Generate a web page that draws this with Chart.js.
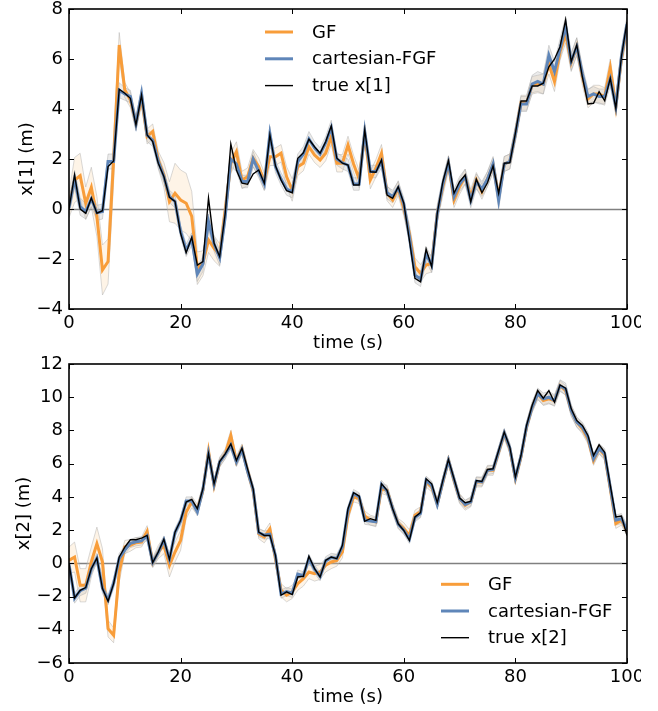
<!DOCTYPE html>
<html>
<head>
<meta charset="utf-8">
<script src="https://cdn.jsdelivr.net/npm/chart.js@4.4.1/dist/chart.umd.min.js"></script>
<style>
  body { margin: 0; background: #fff; }
  canvas { display: block; }
</style>
</head>
<body>
<canvas id="chartX1" width="641" height="355"></canvas>
<canvas id="chartX2" width="641" height="356"></canvas>
<script>
// time steps 0..100 s
const time = Array.from({length: 101}, (_, i) => i);

const xTicks = [0, 20, 40, 60, 80, 100];
const yTicksX1 = [-4, -2, 0, 2, 4, 6, 8];
const yTicksX2 = [-6, -4, -2, 0, 2, 4, 6, 8, 10, 12];

// ---- x[1] ----
const trueX1 = [
  0.0, 1.36, 0.0, -0.17, 0.44, -0.17, -0.07, 1.7, 1.92, 4.79,
  4.63, 4.43, 3.36, 4.56, 2.96, 2.7, 1.83, 1.3, 0.47, 0.3,
  -0.97, -1.75, -1.13, -2.24, -2.1, 0.43, -1.37, -1.9, -0.17, 2.6,
  1.56, 1.03, 0.99, 1.4, 1.56, 1.03, 2.96, 1.73, 1.16, 0.73,
  0.65, 2.03, 2.25, 2.79, 2.49, 2.23, 2.69, 3.32, 2.03, 1.83,
  1.76, 0.96, 0.96, 3.16, 1.49, 1.47, 1.96, 0.56, 0.43, 0.89,
  0.23, -1.24, -2.77, -2.91, -1.61, -2.31, -0.17, 1.09, 1.93, 0.63,
  1.09, 1.36, 0.29, 1.19, 0.65, 1.05, 1.72, 0.63, 1.83, 1.85,
  3.03, 4.32, 4.32, 4.92, 4.92, 5.03, 5.69, 5.99, 6.49, 7.56,
  5.89, 6.56, 5.29, 4.2, 4.23, 4.69, 4.33, 5.23, 4.03, 6.09,
  7.49
];
const fgfX1 = [
  0.05, 1.2, 0.1, -0.1, 0.4, -0.15, -0.1, 1.9, 1.9, 4.75,
  4.6, 4.5, 3.4, 4.62, 2.95, 2.75, 1.9, 1.3, 0.5, 0.3,
  -0.9, -1.65, -1.2, -2.6, -2.2, -0.5, -1.4, -1.95, -0.3, 2.0,
  1.8, 1.1, 1.1, 2.0, 1.5, 1.0, 3.0, 1.7, 1.2, 0.8,
  0.7, 1.9, 2.2, 2.8, 2.45, 2.2, 2.65, 3.25, 2.0, 1.85,
  1.75, 1.0, 1.0, 3.1, 1.5, 1.5, 1.9, 0.65, 0.5, 0.85,
  0.2, -1.1, -2.65, -2.8, -1.8, -2.25, -0.2, 1.0, 1.85, 0.5,
  1.0, 1.3, 0.35, 1.1, 0.8, 1.2, 1.8, 0.35, 1.8, 1.9,
  3.0, 4.2, 4.2, 5.0, 5.1, 5.0, 6.15, 5.5, 6.4, 7.3,
  5.9, 6.5, 5.4, 4.5, 4.6, 4.5, 4.5, 5.2, 4.1, 6.1,
  7.4
];
const gfX1 = [
  0.15, 1.16, 1.33, 0.23, 0.87, -0.3, -2.44, -2.1, 2.0, 6.56,
  4.76, 4.36, 3.43, 4.43, 2.9, 3.1, 1.96, 1.36, 0.29, 0.63,
  0.36, 0.23, -0.3, -2.37, -2.17, -1.24, -1.57, -1.84, -0.04, 1.83,
  2.29, 1.16, 1.29, 2.03, 1.69, 1.09, 2.09, 2.09, 2.23, 1.29,
  0.76, 1.69, 1.83, 2.49, 2.16, 1.96, 2.23, 2.89, 1.83, 1.83,
  2.56, 1.8, 1.2, 3.0, 1.16, 1.63, 2.23, 0.63, 0.36, 0.83,
  0.03, -0.97, -2.31, -2.57, -2.24, -2.17, -0.17, 0.89, 1.83, 0.36,
  0.89, 1.29, 0.49, 1.16, 0.69, 1.2, 1.75, 0.5, 1.8, 1.9,
  3.0, 4.25, 4.25, 4.95, 5.0, 5.0, 5.8, 5.1, 6.3, 7.0,
  5.85, 6.5, 5.3, 4.4, 4.6, 4.6, 4.5, 5.65, 4.1, 6.0,
  7.3
];
// half-width of the shaded bands
const gfSpreadX1 = [
  0.5, 0.9, 0.9, 0.65, 0.8, 0.8, 1.0, 0.9, 0.9, 0.5,
  0.3, 0.3, 0.3, 0.3, 0.3, 0.3, 0.35, 0.5, 0.8, 1.2,
  1.2, 1.2, 1.0, 0.65, 0.5, 0.5, 0.5, 0.45, 0.4, 0.4,
  0.4, 0.35, 0.35, 0.35, 0.35, 0.35, 0.35, 0.35, 0.35, 0.4,
  0.45, 0.35, 0.3, 0.3, 0.3, 0.3, 0.3, 0.3, 0.35, 0.35,
  0.35, 0.35, 0.35, 0.35, 0.35, 0.35, 0.35, 0.3, 0.3, 0.3,
  0.3, 0.35, 0.35, 0.35, 0.35, 0.35, 0.35, 0.35, 0.3, 0.3,
  0.3, 0.3, 0.3, 0.3, 0.3, 0.3, 0.3, 0.3, 0.3, 0.3,
  0.3, 0.3, 0.3, 0.35, 0.35, 0.4, 0.4, 0.4, 0.35, 0.35,
  0.35, 0.35, 0.35, 0.35, 0.35, 0.35, 0.35, 0.35, 0.35, 0.35,
  0.35
];
const fgfSpreadX1 = [
  0.3, 0.35, 0.35, 0.3, 0.3, 0.3, 0.3, 0.3, 0.3, 0.3,
  0.25, 0.25, 0.25, 0.25, 0.25, 0.25, 0.25, 0.25, 0.25, 0.25,
  0.25, 0.25, 0.25, 0.3, 0.3, 0.3, 0.3, 0.3, 0.3, 0.3,
  0.3, 0.25, 0.25, 0.3, 0.25, 0.25, 0.3, 0.25, 0.25, 0.25,
  0.25, 0.3, 0.3, 0.3, 0.25, 0.25, 0.25, 0.3, 0.25, 0.25,
  0.25, 0.25, 0.25, 0.25, 0.25, 0.25, 0.25, 0.25, 0.25, 0.25,
  0.25, 0.3, 0.3, 0.3, 0.3, 0.3, 0.25, 0.25, 0.25, 0.3,
  0.3, 0.3, 0.3, 0.3, 0.3, 0.3, 0.3, 0.35, 0.3, 0.3,
  0.3, 0.3, 0.3, 0.35, 0.4, 0.4, 0.4, 0.4, 0.4, 0.4,
  0.35, 0.35, 0.3, 0.3, 0.3, 0.3, 0.3, 0.3, 0.3, 0.3,
  0.3
];

// ---- x[2] ----
const trueX2 = [
  0.0, -2.08, -1.62, -1.46, -0.32, 0.32, -1.52, -2.28, -1.22, 0.38,
  0.98, 1.42, 1.42, 1.52, 1.68, 0.04, 0.68, 1.44, 0.24, 1.88,
  2.59, 3.69, 3.85, 3.29, 4.49, 6.6, 4.79, 6.13, 6.59, 7.19,
  6.19, 6.93, 5.69, 4.49, 1.88, 1.68, 1.68, 0.48, -1.92, -1.72,
  -1.88, -0.82, -0.78, 0.42, -0.32, -0.82, 0.18, 0.38, 0.28, 1.08,
  3.29, 4.25, 4.05, 2.53, 2.69, 2.59, 4.79, 4.39, 3.29, 2.38,
  1.98, 1.38, 2.79, 3.05, 5.09, 4.79, 3.65, 4.99, 6.25, 5.09,
  3.93, 3.65, 3.73, 4.99, 4.93, 5.65, 5.69, 6.79, 7.9, 6.99,
  5.19, 6.49, 8.3, 9.5, 10.4, 9.94, 10.4, 9.7, 10.74, 10.54,
  9.3, 8.6, 8.3, 7.7, 6.49, 7.13, 6.69, 4.69, 2.79, 2.85,
  1.68
];
const fgfX2 = [
  -0.05, -2.1, -1.65, -1.5, -0.35, 0.3, -1.5, -2.2, -1.2, 0.3,
  0.8, 1.2, 1.3, 1.35, 1.65, 0.05, 0.65, 1.4, 0.25, 1.85,
  2.55, 3.75, 3.75, 3.1, 4.45, 6.6, 4.75, 6.1, 6.55, 7.1,
  6.1, 6.85, 5.55, 4.45, 1.85, 1.7, 1.75, 0.45, -1.85, -1.7,
  -1.8, -0.65, -0.75, 0.3, -0.35, -0.8, 0.15, 0.35, 0.3, 1.0,
  3.2, 4.2, 4.0, 2.6, 2.55, 2.5, 4.75, 4.35, 3.3, 2.35,
  2.0, 1.45, 2.75, 3.0, 5.0, 4.7, 3.55, 4.95, 6.2, 5.05,
  3.9, 3.55, 3.7, 4.95, 4.9, 5.6, 5.65, 6.75, 7.85, 6.95,
  5.15, 6.45, 8.25, 9.4, 10.2, 9.9, 10.0, 9.8, 10.7, 10.5,
  9.2, 8.5, 8.2, 7.6, 6.3, 6.9, 6.6, 4.6, 2.6, 2.7,
  2.0
];
const gfX2 = [
  0.18, 0.38, -1.32, -1.32, 0.08, 1.18, 0.08, -3.93, -4.33, -0.52,
  0.98, 1.08, 1.24, 1.28, 1.92, 0.04, 0.68, 1.08, -0.12, 0.68,
  1.38, 3.09, 3.69, 3.25, 4.39, 6.75, 4.69, 6.09, 6.59, 7.7,
  6.13, 6.89, 5.59, 4.39, 1.78, 1.58, 2.08, 0.28, -1.62, -1.92,
  -1.72, -1.22, -0.92, -0.52, -0.62, -0.52, -0.12, 0.08, 0.18, 0.68,
  2.89, 4.0, 3.9, 2.85, 2.6, 2.5, 4.5, 4.4, 3.3, 2.4,
  2.1, 1.68, 2.9, 3.1, 4.9, 4.6, 3.6, 4.9, 6.2, 5.0,
  3.9, 3.5, 3.7, 4.9, 4.9, 5.6, 5.6, 6.7, 7.8, 6.9,
  5.1, 6.4, 8.2, 9.4, 10.2, 9.8, 9.9, 9.8, 10.7, 10.4,
  9.2, 8.5, 8.1, 7.5, 6.2, 6.9, 6.5, 4.5, 2.4, 2.6,
  1.95
];
const gfSpreadX2 = [
  0.8, 0.9, 1.0, 1.0, 0.9, 1.0, 0.8, 0.5, 0.45, 0.6,
  0.4, 0.35, 0.3, 0.3, 0.35, 0.3, 0.4, 0.5, 0.7, 0.6,
  0.6, 0.4, 0.35, 0.3, 0.3, 0.3, 0.3, 0.3, 0.3, 0.3,
  0.3, 0.3, 0.3, 0.3, 0.3, 0.35, 0.35, 0.35, 0.4, 0.4,
  0.4, 0.4, 0.45, 0.4, 0.45, 0.45, 0.4, 0.4, 0.35, 0.35,
  0.3, 0.3, 0.3, 0.3, 0.3, 0.3, 0.3, 0.3, 0.3, 0.3,
  0.35, 0.35, 0.3, 0.3, 0.3, 0.3, 0.3, 0.3, 0.3, 0.3,
  0.3, 0.3, 0.3, 0.3, 0.3, 0.3, 0.3, 0.3, 0.3, 0.3,
  0.3, 0.3, 0.3, 0.3, 0.3, 0.3, 0.3, 0.3, 0.3, 0.3,
  0.3, 0.3, 0.3, 0.3, 0.3, 0.3, 0.3, 0.3, 0.3, 0.3,
  0.3
];
const fgfSpreadX2 = [
  0.3, 0.3, 0.3, 0.3, 0.3, 0.3, 0.3, 0.3, 0.3, 0.3,
  0.25, 0.25, 0.25, 0.25, 0.25, 0.25, 0.25, 0.25, 0.25, 0.25,
  0.25, 0.25, 0.25, 0.25, 0.25, 0.25, 0.25, 0.25, 0.25, 0.25,
  0.25, 0.25, 0.25, 0.25, 0.25, 0.25, 0.25, 0.25, 0.25, 0.25,
  0.25, 0.25, 0.25, 0.25, 0.25, 0.25, 0.25, 0.25, 0.25, 0.25,
  0.25, 0.25, 0.25, 0.25, 0.25, 0.25, 0.25, 0.25, 0.25, 0.25,
  0.25, 0.25, 0.25, 0.25, 0.25, 0.25, 0.25, 0.25, 0.25, 0.25,
  0.25, 0.25, 0.25, 0.25, 0.25, 0.25, 0.25, 0.25, 0.25, 0.25,
  0.25, 0.25, 0.25, 0.3, 0.35, 0.35, 0.35, 0.35, 0.35, 0.35,
  0.35, 0.3, 0.3, 0.3, 0.3, 0.3, 0.3, 0.3, 0.3, 0.3,
  0.3
];

const ORANGE = '#f89d3a';
const BLUE = '#5f86b9';
const FONT = 'DejaVu Sans';
const FONT_SIZE = 18;

Chart.defaults.font.family = FONT;
Chart.defaults.font.size = FONT_SIZE;
Chart.defaults.color = '#000';

const pts = arr => time.map((t, i) => ({x: t, y: arr[i]}));
const shifted = (arr, spread, sign) => time.map((t, i) => ({x: t, y: arr[i] + sign * spread[i]}));

// zero line, box frame, inward ticks and legend, matplotlib-like
const framePlugin = {
  id: 'frame',
  beforeDatasetsDraw(chart) {
    const {ctx, chartArea: a, scales: {y}} = chart;
    const y0 = Math.round(y.getPixelForValue(0)) + 0.5;
    ctx.save();
    ctx.strokeStyle = '#808080';
    ctx.lineWidth = 1.3;
    ctx.beginPath();
    ctx.moveTo(a.left, y0);
    ctx.lineTo(a.right, y0);
    ctx.stroke();
    ctx.restore();
  },
  afterDraw(chart, args, opts) {
    const {ctx, chartArea: a, scales: {x, y}} = chart;
    ctx.save();
    ctx.strokeStyle = '#000';
    ctx.lineWidth = 1;
    ctx.beginPath();
    xTicks.forEach(v => {
      const px = Math.round(x.getPixelForValue(v)) + 0.5;
      ctx.moveTo(px, a.bottom); ctx.lineTo(px, a.bottom - 5);
      ctx.moveTo(px, a.top); ctx.lineTo(px, a.top + 5);
    });
    opts.yTicks.forEach(v => {
      const py = Math.round(y.getPixelForValue(v)) + 0.5;
      ctx.moveTo(a.left, py); ctx.lineTo(a.left + 5, py);
      ctx.moveTo(a.right, py); ctx.lineTo(a.right - 5, py);
    });
    ctx.stroke();
    ctx.lineWidth = 1.6;
    ctx.strokeRect(a.left, a.top, a.right - a.left, a.bottom - a.top);

    // legend: GF, cartesian-FGF, truth from top to bottom
    const lg = opts.legend;
    ctx.font = FONT_SIZE + 'px "' + FONT + '"';
    ctx.textBaseline = 'middle';
    ctx.textAlign = 'left';
    chart.data.datasets.slice(0, 3).reverse().forEach((ds, i) => {
      const ly = lg.y + i * lg.dy;
      ctx.strokeStyle = ds.borderColor;
      ctx.lineWidth = ds.borderWidth;
      ctx.beginPath();
      ctx.moveTo(lg.x, ly);
      ctx.lineTo(lg.x + 28, ly);
      ctx.stroke();
      ctx.fillStyle = '#000';
      ctx.fillText(ds.label, lg.textX, ly + 1);
    });
    ctx.restore();
  }
};

function makeChart(id, s) {
  return new Chart(document.getElementById(id), {
    type: 'line',
    data: {
      datasets: [
        {label: s.trueLabel, data: pts(s.truth), borderColor: '#000', borderWidth: 1.4},
        {label: 'cartesian-FGF', data: pts(s.fgf), borderColor: BLUE, borderWidth: 3},
        {label: 'GF', data: pts(s.gf), borderColor: ORANGE, borderWidth: 3},
        {data: shifted(s.fgf, s.fgfSpread, -1), borderColor: 'rgba(170,170,170,0.45)', borderWidth: 1, fill: false},
        {data: shifted(s.fgf, s.fgfSpread, 1), borderColor: 'rgba(170,170,170,0.45)', borderWidth: 1,
         fill: '-1', backgroundColor: 'rgba(190,190,190,0.3)'},
        {data: shifted(s.gf, s.gfSpread, -1), borderColor: 'rgba(170,170,170,0.45)', borderWidth: 1, fill: false},
        {data: shifted(s.gf, s.gfSpread, 1), borderColor: 'rgba(170,170,170,0.45)', borderWidth: 1,
         fill: '-1', backgroundColor: 'rgba(250,215,170,0.28)'}
      ]
    },
    options: {
      responsive: false,
      animation: false,
      devicePixelRatio: 1,
      layout: {padding: {top: 9, right: 14, left: 0, bottom: 0}},
      elements: {point: {radius: 0}, line: {tension: 0}},
      plugins: {
        legend: {display: false},
        tooltip: {enabled: false},
        frame: {yTicks: s.yTicks, legend: s.legend}
      },
      scales: {
        x: {
          type: 'linear', min: 0, max: 100,
          afterBuildTicks: sc => { sc.ticks = xTicks.map(v => ({value: v})); },
          afterFit: sc => {
            sc.height = s.xHeight;
            // let the end labels hang past the frame instead of shrinking it
            sc.paddingLeft = 0;
            sc.paddingRight = 0;
          },
          grid: {display: false, drawTicks: false},
          border: {display: false},
          ticks: {padding: 4, maxRotation: 0, autoSkip: false},
          title: {display: true, text: 'time (s)', padding: {top: 0, bottom: s.xTitlePad}}
        },
        y: {
          min: s.yTicks[0], max: s.yTicks[s.yTicks.length - 1],
          afterBuildTicks: sc => { sc.ticks = s.yTicks.map(v => ({value: v})); },
          afterFit: sc => {
            sc.width = 69;
            sc.paddingTop = 0;
            sc.paddingBottom = 0;
          },
          grid: {display: false, drawTicks: false},
          border: {display: false},
          ticks: {padding: 6, callback: v => String(v).replace('-', '\u2212')},
          title: {display: true, text: s.yLabel, padding: {top: s.yTitlePad, bottom: 0}}
        }
      }
    },
    plugins: [framePlugin]
  });
}

makeChart('chartX1', {
  truth: trueX1, fgf: fgfX1, gf: gfX1, gfSpread: gfSpreadX1, fgfSpread: fgfSpreadX1,
  trueLabel: 'true x[1]', yLabel: 'x[1] (m)', yTicks: yTicksX1,
  xHeight: 46, xTitlePad: 1, yTitlePad: 17,
  legend: {x: 265, textX: 312, y: 32, dy: 26.8}
});

makeChart('chartX2', {
  truth: trueX2, fgf: fgfX2, gf: gfX2, gfSpread: gfSpreadX2, fgfSpread: fgfSpreadX2,
  trueLabel: 'true x[2]', yLabel: 'x[2] (m)', yTicks: yTicksX2,
  xHeight: 48, xTitlePad: 3, yTitlePad: 14,
  legend: {x: 441, textX: 488, y: 229.3, dy: 26.7}
});
</script>
</body>
</html>
